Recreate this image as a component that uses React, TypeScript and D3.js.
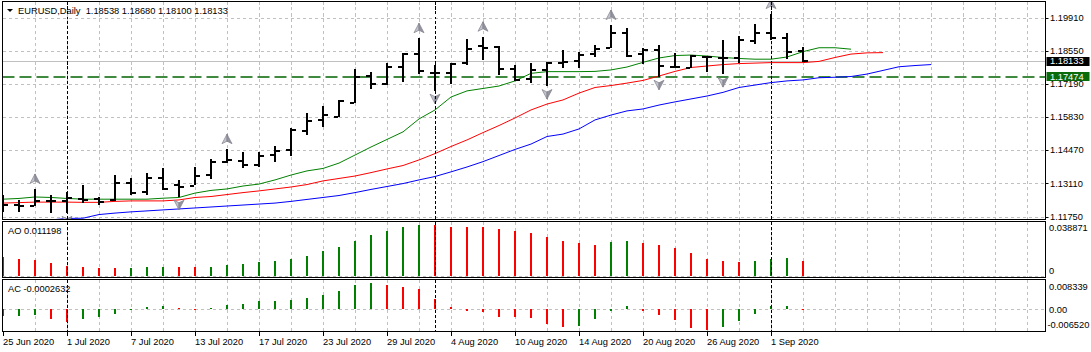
import React from 'react';
import * as d3 from 'd3';

const W = 1091;
const H = 352;

// trading days shown on the chart
const dates = [
  '2020-06-25', '2020-06-26', '2020-06-29', '2020-06-30', '2020-07-01', '2020-07-02', '2020-07-03',
  '2020-07-06', '2020-07-07', '2020-07-08', '2020-07-09', '2020-07-10', '2020-07-13', '2020-07-14',
  '2020-07-15', '2020-07-16', '2020-07-17', '2020-07-20', '2020-07-21', '2020-07-22', '2020-07-23',
  '2020-07-24', '2020-07-27', '2020-07-28', '2020-07-29', '2020-07-30', '2020-07-31', '2020-08-03',
  '2020-08-04', '2020-08-05', '2020-08-06', '2020-08-07', '2020-08-10', '2020-08-11', '2020-08-12',
  '2020-08-13', '2020-08-14', '2020-08-17', '2020-08-18', '2020-08-19', '2020-08-20', '2020-08-21',
  '2020-08-24', '2020-08-25', '2020-08-26', '2020-08-27', '2020-08-28', '2020-08-31', '2020-09-01',
  '2020-09-02', '2020-09-03',
];

const opens = [
  1.1218, 1.1221, 1.1219, 1.1239, 1.1240, 1.1247, 1.1246, 1.1243, 1.1311, 1.1277,
  1.1332, 1.1304, 1.1302, 1.1345, 1.1397, 1.1404, 1.1386, 1.1427, 1.1448, 1.1527,
  1.1571, 1.1584, 1.1642, 1.1751, 1.1718, 1.1789, 1.1842, 1.1765, 1.1762, 1.1803,
  1.1874, 1.1872, 1.1779, 1.1738, 1.1776, 1.1806, 1.1814, 1.1841, 1.1865, 1.1926,
  1.1840, 1.1858, 1.1786, 1.1785, 1.1830, 1.1824, 1.1824, 1.1896, 1.1929, 1.1906,
  1.18538,
];
const highs = [
  1.1263, 1.1243, 1.1288, 1.1263, 1.1276, 1.1304, 1.1256, 1.1345, 1.1333, 1.1354,
  1.1373, 1.1325, 1.1377, 1.1410, 1.1451, 1.1441, 1.1441, 1.1464, 1.1537, 1.1598,
  1.1628, 1.1653, 1.1779, 1.1769, 1.1803, 1.1844, 1.1906, 1.1796, 1.1803, 1.1902,
  1.1912, 1.1874, 1.1796, 1.1803, 1.1810, 1.1858, 1.1851, 1.1878, 1.1960, 1.1947,
  1.1865, 1.1878, 1.1844, 1.1837, 1.1833, 1.1899, 1.1915, 1.1964, 1.2005, 1.1926,
  1.18680,
];
const lows = [
  1.1195, 1.1195, 1.1218, 1.1191, 1.1190, 1.1231, 1.1222, 1.1239, 1.1263, 1.1263,
  1.1284, 1.1256, 1.1304, 1.1328, 1.1393, 1.1373, 1.1379, 1.1400, 1.1423, 1.1509,
  1.1541, 1.1584, 1.1642, 1.1697, 1.1714, 1.1728, 1.1759, 1.1691, 1.1718, 1.1796,
  1.1817, 1.1755, 1.1732, 1.1724, 1.1710, 1.1783, 1.1783, 1.1828, 1.1865, 1.1830,
  1.1799, 1.1748, 1.1783, 1.1783, 1.1769, 1.1759, 1.1806, 1.1882, 1.1899, 1.1820,
  1.18100,
];
const closes = [
  1.1222, 1.1219, 1.1240, 1.1238, 1.1252, 1.1243, 1.1236, 1.1311, 1.1273, 1.1332,
  1.1287, 1.1295, 1.1341, 1.1397, 1.1407, 1.1386, 1.1423, 1.1445, 1.1530, 1.1568,
  1.1591, 1.1650, 1.1748, 1.1718, 1.1787, 1.1842, 1.1773, 1.1763, 1.1800, 1.1861,
  1.1865, 1.1779, 1.1735, 1.1776, 1.1806, 1.1810, 1.1837, 1.1861, 1.1926, 1.1833,
  1.1858, 1.1793, 1.1788, 1.1833, 1.1831, 1.1825, 1.1899, 1.1929, 1.1906, 1.1851,
  1.18133,
];

// Alligator lines (shifted forward past the last bar)
const lips = [
  1.1246, 1.1249, 1.1255, 1.1253, 1.1249, 1.1246, 1.1246, 1.1246, 1.1246, 1.1246,
  1.1250, 1.1253, 1.1271, 1.1282, 1.1288, 1.1300, 1.1308, 1.1325, 1.1345, 1.1362,
  1.1372, 1.1394, 1.1427, 1.1460, 1.1491, 1.1522, 1.1575, 1.1612, 1.1665, 1.1690,
  1.1700, 1.1710, 1.1731, 1.1762, 1.1769, 1.1769, 1.1769, 1.1770, 1.1776, 1.1788,
  1.1807, 1.1825, 1.1835, 1.1837, 1.1833, 1.1827, 1.1823, 1.1820, 1.1820, 1.1829,
  1.1851, 1.1867, 1.1867, 1.1861,
];
const teeth = [
  1.1230, 1.1232, 1.1234, 1.1234, 1.1234, 1.1233, 1.1233, 1.1237, 1.1239, 1.1239,
  1.1239, 1.1243, 1.1253, 1.1257, 1.1265, 1.1273, 1.1280, 1.1288, 1.1296, 1.1306,
  1.1321, 1.1331, 1.1341, 1.1355, 1.1370, 1.1384, 1.1407, 1.1433, 1.1462, 1.1489,
  1.1519, 1.1548, 1.1579, 1.1612, 1.1636, 1.1653, 1.1681, 1.1704, 1.1712, 1.1722,
  1.1733, 1.1751, 1.1770, 1.1786, 1.1792, 1.1798, 1.1802, 1.1804, 1.1806, 1.1806,
  1.1806, 1.1811, 1.1827, 1.1841, 1.1846, 1.1847,
];
const jaw = [
  1.1140, 1.1148, 1.1155, 1.1161, 1.1167, 1.1168, 1.1183, 1.1189, 1.1194, 1.1198,
  1.1202, 1.1206, 1.1210, 1.1214, 1.1218, 1.1222, 1.1226, 1.1230, 1.1237, 1.1245,
  1.1253, 1.1261, 1.1273, 1.1286, 1.1298, 1.1310, 1.1325, 1.1339, 1.1358, 1.1378,
  1.1400, 1.1425, 1.1450, 1.1472, 1.1503, 1.1513, 1.1534, 1.1571, 1.1591, 1.1608,
  1.1616, 1.1632, 1.1645, 1.1657, 1.1669, 1.1684, 1.1704, 1.1714, 1.1724, 1.1731,
  1.1735, 1.1744, 1.1746, 1.1749, 1.1759, 1.1774, 1.1789, 1.1794, 1.1798,
];

const fractalUp = [2, 14, 26, 30, 38, 48];
const fractalDown = [4, 11, 27, 34, 41, 45];

// Awesome Oscillator
const aoBefore = 0.0160;
const aoValues = [
  0.01486, 0.01332, 0.01255, 0.01024, 0.00793, 0.00716, 0.00639, 0.0062, 0.0064, 0.0071,
  0.0072, 0.0071, 0.0070, 0.0072, 0.0085, 0.0095, 0.0110, 0.0118, 0.0133, 0.0156,
  0.0187, 0.0218, 0.0264, 0.0310, 0.0341, 0.0372, 0.038871, 0.0385, 0.0377, 0.0376,
  0.0372, 0.0356, 0.0341, 0.0326, 0.0295, 0.0264, 0.0249, 0.0239, 0.0256, 0.0264,
  0.0249, 0.0233, 0.0210, 0.0172, 0.0133, 0.0118, 0.0110, 0.0118, 0.0133, 0.0134,
  0.011198,
];

// Accelerator Oscillator
const acBefore = -0.0025;
const acValues = [
  -0.0021, -0.0020, -0.0018, -0.0030, -0.0041, -0.0030, -0.0023, -0.0014, 0.0001, 0.0007,
  0.0009, 0.0004, 0.0001, 0.0005, 0.0014, 0.0017, 0.0026, 0.0027, 0.0030, 0.0036,
  0.0046, 0.0058, 0.0077, 0.008339, 0.0077, 0.0071, 0.0064, 0.0033, 0.0007, -0.0005,
  -0.0009, -0.0024, -0.0025, -0.0028, -0.0047, -0.0056, -0.0053, -0.0031, -0.0005, 0.0011,
  -0.0005, -0.0018, -0.0034, -0.0058, -0.00652, -0.0056, -0.0037, -0.0015, 0.0011, 0.0012,
  -0.0002632,
];

const priceTicks = [1.1991, 1.1855, 1.1719, 1.1583, 1.1447, 1.1311, 1.1175];
const aoTicks = [0.038871, 0];
const acTicks = [0.008339, 0, -0.00652];
const bidPrice = 1.18133;
const levelPrice = 1.17474;

const FONT = '"Liberation Sans", Arial, sans-serif';
const FS = 9.3;

const parse = d3.timeParse('%Y-%m-%d');
const fmt = d3.timeFormat('%-d %b %Y');

export default function App() {
  const left = 2.5;
  const right = 1045.5;
  const main = { top: 1.5, bottom: 219.5 };
  const aoP = { top: 221.5, bottom: 277.5 };
  const acP = { top: 279.5, bottom: 331.5 };

  const x = d3.scaleLinear().domain([0, 50]).range([3, 803]);
  const y = d3.scaleLinear().domain([1.1175, 1.1991]).range([216.5, 17.5]);
  const yAO = d3.scaleLinear().domain([0, 0.038871]).range([276, 225]);
  const yAC = d3.scaleLinear().domain([0, 0.008339]).range([309.3, 283]);

  const days = dates.map(d => parse(d) as Date);
  const separators = d3.range(1, days.length).filter(i => days[i].getMonth() !== days[i - 1].getMonth());
  const gridIdx = d3.range(2, 66, 2);
  const labelIdx = d3.range(0, days.length, 4);

  const line = d3.line<number>().x((d, i) => x(i)).y(d => y(d));

  // fractal arrows: two halves for the shaded look
  const upL = 'M0,-5 L0,2 L-5,4.5 Z';
  const upR = 'M0,-5 L5,4.5 L0,2 Z';
  const downL = 'M0,5 L0,-2 L-5,-4.5 Z';
  const downR = 'M0,5 L5,-4.5 L0,-2 Z';

  const r = (v: number) => Math.round(v);

  const header = `EURUSD,Daily\u00a0\u00a0${opens[50].toFixed(5)} ${highs[50].toFixed(5)} ${lows[50].toFixed(5)} ${closes[50].toFixed(5)}`;

  const green = '#008000';
  const red = '#ff0000';

  return (
    <div style={{ position: 'absolute', left: 0, top: 0 }}>
      <svg width={W} height={H} style={{ display: 'block', background: '#fff' }} fontFamily={FONT} fontSize={FS}>
        <defs>
          <clipPath id="clipMain"><rect x={left} y={main.top} width={right - left} height={main.bottom - main.top} /></clipPath>
          <clipPath id="clipAO"><rect x={left} y={aoP.top} width={right - left} height={aoP.bottom - aoP.top} /></clipPath>
          <clipPath id="clipAC"><rect x={left} y={acP.top} width={right - left} height={acP.bottom - acP.top} /></clipPath>
        </defs>

        {/* grid */}
        <g stroke="#c0c0c0" strokeDasharray="3,3" shapeRendering="crispEdges">
          {priceTicks.map(p => (
            <line key={p} x1={left} x2={right} y1={r(y(p)) + 0.5} y2={r(y(p)) + 0.5} />
          ))}
          <line x1={left} x2={right} y1={276.5} y2={276.5} />
          <line x1={left} x2={right} y1={309.5} y2={309.5} />
          {gridIdx.map(i => (
            <g key={i}>
              <line x1={x(i) + 0.5} x2={x(i) + 0.5} y1={main.top} y2={main.bottom} />
              <line x1={x(i) + 0.5} x2={x(i) + 0.5} y1={aoP.top} y2={aoP.bottom} />
              <line x1={x(i) + 0.5} x2={x(i) + 0.5} y1={acP.top} y2={acP.bottom} />
            </g>
          ))}
        </g>

        {/* main panel */}
        <g clipPath="url(#clipMain)">
          <line x1={left} x2={right} y1={r(y(bidPrice)) + 0.5} y2={r(y(bidPrice)) + 0.5} stroke="#c0c0c0" shapeRendering="crispEdges" />
          <line x1={left} x2={right} y1={r(y(levelPrice))} y2={r(y(levelPrice))} stroke="#006400" strokeWidth={1.3} strokeDasharray="12,5" />
          <path d={line(jaw) || ''} fill="none" stroke="#0000ff" strokeWidth={1} />
          <path d={line(teeth) || ''} fill="none" stroke={red} strokeWidth={1} />
          <path d={line(lips) || ''} fill="none" stroke={green} strokeWidth={1} />
          <g fill="#000" shapeRendering="crispEdges">
            {opens.map((o, i) => {
              const cx = r(x(i));
              const yh = r(y(highs[i]));
              const yl = r(y(lows[i]));
              return (
                <g key={i}>
                  <rect x={cx - 1} y={yh} width={2} height={Math.max(2, yl - yh)} />
                  <rect x={cx - 5} y={r(y(o)) - 1} width={4} height={2} />
                  <rect x={cx + 1} y={r(y(closes[i])) - 1} width={4} height={2} />
                </g>
              );
            })}
          </g>
          <g stroke="#80808c" strokeWidth={0.7} strokeLinejoin="round">
            {fractalUp.map(i => (
              <g key={'u' + i} transform={`translate(${x(i)},${y(highs[i]) - 10})`}>
                <path d={upL} fill="#c4c4cc" />
                <path d={upR} fill="#94949e" />
              </g>
            ))}
            {fractalDown.map(i => (
              <g key={'d' + i} transform={`translate(${x(i)},${y(lows[i]) + 8})`}>
                <path d={downL} fill="#c4c4cc" />
                <path d={downR} fill="#94949e" />
              </g>
            ))}
          </g>
        </g>

        {/* AO panel */}
        <g clipPath="url(#clipAO)" shapeRendering="crispEdges">
          {aoValues.map((v, i) => {
            const prev = i === 0 ? aoBefore : aoValues[i - 1];
            const top = Math.min(yAO(v), yAO(0));
            return (
              <rect key={i} x={r(x(i)) - 1} y={top} width={2} height={Math.abs(yAO(v) - yAO(0))}
                fill={v > prev ? green : red} />
            );
          })}
        </g>

        {/* AC panel */}
        <g clipPath="url(#clipAC)" shapeRendering="crispEdges">
          {acValues.map((v, i) => {
            const prev = i === 0 ? acBefore : acValues[i - 1];
            const top = Math.min(yAC(v), yAC(0));
            return (
              <rect key={i} x={r(x(i)) - 1} y={top} width={2} height={Math.max(1, Math.abs(yAC(v) - yAC(0)))}
                fill={v > prev ? green : red} />
            );
          })}
        </g>

        {/* period separators */}
        <g stroke="#000" strokeDasharray="3,2" shapeRendering="crispEdges">
          {separators.map(i => (
            <g key={i}>
              <line x1={x(i) + 0.5} x2={x(i) + 0.5} y1={main.top} y2={main.bottom} />
              <line x1={x(i) + 0.5} x2={x(i) + 0.5} y1={aoP.top} y2={aoP.bottom} />
              <line x1={x(i) + 0.5} x2={x(i) + 0.5} y1={acP.top} y2={acP.bottom} />
            </g>
          ))}
        </g>

        {/* frames */}
        <g fill="none" stroke="#000" shapeRendering="crispEdges">
          <rect x={left} y={main.top} width={right - left} height={main.bottom - main.top} />
          <rect x={left} y={aoP.top} width={right - left} height={aoP.bottom - aoP.top} />
          <rect x={left} y={acP.top} width={right - left} height={acP.bottom - acP.top} />
        </g>

        {/* header */}
        <path d="M7,9 L13,9 L10,12 Z" fill="#000" />
        <text x={18} y={10.3} dy="0.35em" fill="#000">{header}</text>
        <text x={8} y={230.5} dy="0.35em" fill="#000">{`AO ${aoValues[50].toFixed(6)}`}</text>
        <text x={8} y={288.5} dy="0.35em" fill="#000">{`AC ${acValues[50].toFixed(7)}`}</text>

        {/* price axis */}
        <g fill="#000">
          {priceTicks.map(p => (
            <g key={p}>
              <line x1={right} x2={right + 3} y1={r(y(p)) + 0.5} y2={r(y(p)) + 0.5} stroke="#000" />
              <text x={1050} y={y(p)} dy="0.35em">{p.toFixed(5)}</text>
            </g>
          ))}
          <text x={1049} y={228} dy="0.35em">{aoTicks[0].toFixed(6)}</text>
          <text x={1049} y={270.7} dy="0.35em">{String(aoTicks[1])}</text>
          <text x={1049} y={286.7} dy="0.35em">{acTicks[0].toFixed(6)}</text>
          <text x={1049} y={309.3} dy="0.35em">{acTicks[1].toFixed(2)}</text>
          <text x={1047.5} y={324.3} dy="0.35em">{acTicks[2].toFixed(6)}</text>
        </g>
        <rect x={1046.5} y={r(y(bidPrice)) - 4} width={43} height={9} fill="#000" />
        <text x={1050} y={y(bidPrice) + 0.3} dy="0.35em" fill="#fff">{bidPrice.toFixed(5)}</text>
        <rect x={1046.5} y={72} width={43} height={9} fill="#0b6b0b" />
        <text x={1050} y={76.3} dy="0.35em" fill="#fff">{levelPrice.toFixed(5)}</text>

        {/* time axis */}
        <g fill="#000">
          {labelIdx.map(i => (
            <g key={i}>
              <line x1={x(i) + 0.5} x2={x(i) + 0.5} y1={acP.bottom} y2={acP.bottom + 4} stroke="#000" shapeRendering="crispEdges" />
              <text x={x(i)} y={342} dy="0.35em">{fmt(days[i])}</text>
            </g>
          ))}
        </g>
      </svg>
    </div>
  );
}
